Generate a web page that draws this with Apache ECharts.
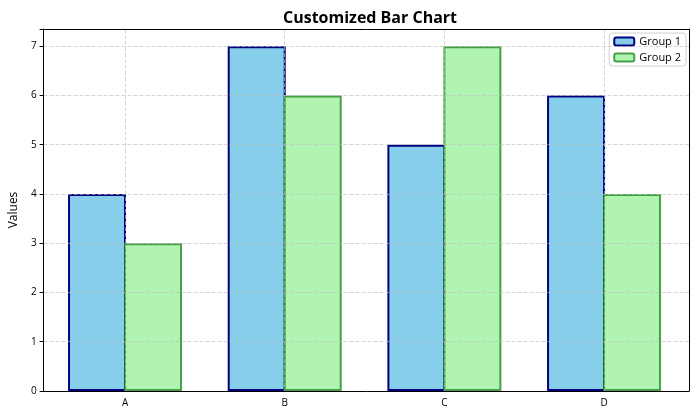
<!DOCTYPE html>
<html>
<head>
<meta charset="utf-8">
<script src="https://cdn.jsdelivr.net/npm/echarts@6/dist/echarts.min.js"></script>
<style>html,body{margin:0;padding:0;background:#fff}#c{width:700px;height:420px}</style>
</head>
<body>
<div id="c"></div>
<script>
const categories = ['A', 'B', 'C', 'D'];
const group1 = [4, 7, 5, 6];
const group2 = [3, 6, 7, 4];
const yTicks = [0, 1, 2, 3, 4, 5, 6, 7];

const FONT = '"Open Sans", "Noto Sans", sans-serif';
const GRID_C = 'rgba(190,190,190,0.8)';
const frameAxis = { axisLine: { show: true, onZero: false, lineStyle: { color: '#000', width: 1 } }, axisTick: { show: false }, axisLabel: { show: false }, splitLine: { show: false } };
const chart = echarts.init(document.getElementById('c'));
chart.setOption({
  animation: false,
  title: {
    text: 'Customized Bar Chart', left: 365, top: 5, textAlign: 'center',
    textStyle: { fontFamily: FONT, fontWeight: 'bold', fontSize: 16, color: '#000' }
  },
  legend: {
    orient: 'vertical', right: 14, top: 33, padding: [3, 5, 3, 4],
    itemWidth: 20, itemHeight: 8, itemGap: 5,
    borderColor: '#d0d0d0', borderWidth: 1, borderRadius: 3,
    textStyle: { fontFamily: FONT, fontSize: 11, color: '#000' },
    data: ['Group 1', 'Group 2']
  },
  grid: [
    { left: 45.2, right: 16.1, top: 29, bottom: 29 },
    { left: 41, right: 11, top: 29, bottom: 29 }
  ],
  xAxis: [{
    gridIndex: 0, type: 'category', data: categories, z: 5,
    axisLine: { show: false },
    axisTick: { alignWithLabel: true, length: 4, lineStyle: { color: '#000' } },
    axisLabel: { fontFamily: FONT, fontSize: 10, color: '#000', margin: 7 },
    splitLine: { show: false }
  }, {
    gridIndex: 0, type: 'value', min: 0, max: 4, interval: 0.5, position: 'bottom', z: 5,
    axisLine: { show: false }, axisTick: { show: false }, axisLabel: { show: false },
    splitLine: { show: true, lineStyle: { color: ['transparent', GRID_C], type: [4, 2], width: 0.8 } }
  }, Object.assign({
    gridIndex: 1, type: 'value', min: 0, max: 1, position: 'bottom', z: 6
  }, frameAxis), Object.assign({
    gridIndex: 1, type: 'value', min: 0, max: 1, position: 'top', z: 6
  }, frameAxis)],
  yAxis: [{
    gridIndex: 0, type: 'value', min: 0, max: 7.35, show: false
  }, {
    gridIndex: 1, type: 'value', min: 0, max: 7.35, interval: 1, z: 5,
    name: 'Values', nameLocation: 'middle', nameGap: 21, nameRotate: 90,
    nameTextStyle: { fontFamily: FONT, fontSize: 12, color: '#000' },
    axisLine: { show: true, onZero: false, lineStyle: { color: '#000' } },
    axisTick: { show: true, length: 4, lineStyle: { color: '#000' } },
    axisLabel: { fontFamily: FONT, fontSize: 10, color: '#000', margin: 7,
      formatter: v => (yTicks.includes(v) ? String(v) : '') },
    splitLine: { show: true, lineStyle: { color: [GRID_C, GRID_C, GRID_C, GRID_C, GRID_C, GRID_C, GRID_C, GRID_C, 'transparent'], type: [4, 2], width: 0.8 } }
  }, Object.assign({
    gridIndex: 1, type: 'value', min: 0, max: 1, position: 'right', z: 6
  }, frameAxis)],
  series: [{
    name: 'Group 1', type: 'bar', xAxisIndex: 0, yAxisIndex: 0, data: group1, barWidth: 58, barGap: '-3.45%',
    itemStyle: { color: '#87CEEB', borderColor: '#000080', borderWidth: 2 }
  }, {
    name: 'Group 2', type: 'bar', xAxisIndex: 0, yAxisIndex: 0, data: group2, barWidth: 58, barGap: '-3.45%',
    itemStyle: { color: '#B1F3B1', borderColor: 'rgba(34,139,34,0.8)', borderWidth: 2 }
  }]
});
</script>
</body>
</html>
